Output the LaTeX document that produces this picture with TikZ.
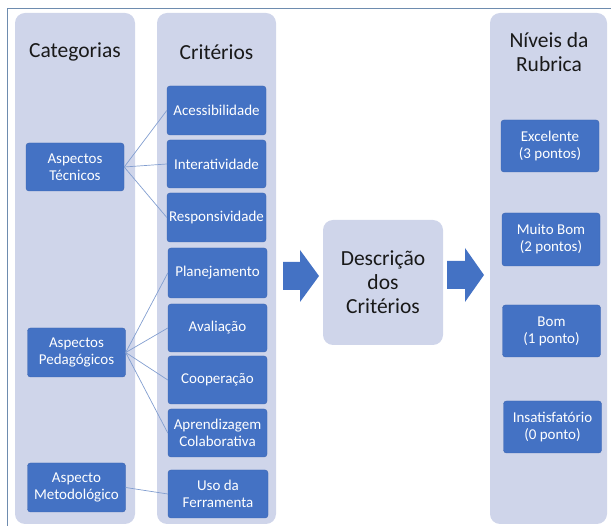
\documentclass[tikz,border=0pt]{standalone}
\usepackage{fontspec}
\setmainfont{Carlito}
\definecolor{dblue}{RGB}{68,114,196}
\definecolor{dborder}{RGB}{60,100,175}
\definecolor{lcol}{RGB}{207,213,234}
\definecolor{conn}{RGB}{130,158,208}
\definecolor{frame}{RGB}{110,140,175}
\definecolor{ttext}{RGB}{25,25,25}
\begin{document}
\begin{tikzpicture}[x=1pt,y=-1pt,
  colbox/.style={fill=lcol,rounded corners=10pt,inner sep=0pt},
  item/.style={fill=dblue,draw=dborder,line width=0.4pt,rounded corners=3pt,text=white,
    align=center,inner sep=1pt,minimum width=98pt,minimum height=48pt,
    font=\fontsize{15}{17}\selectfont},
  ttl/.style={text=ttext,align=center,font=\fontsize{21.5}{24}\selectfont},
  link/.style={draw=conn,line width=0.7pt},
  blockarrow/.style={fill=dblue,draw=none}]
\useasboundingbox (0,0) rectangle (611,526);
\draw[frame,line width=0.8pt] (7,526) -- (7,8) -- (611,8);
% columns
\node[colbox,minimum width=120pt,minimum height=511pt] (c1) at (75,268.5) {};
\node[colbox,minimum width=119pt,minimum height=511pt] (c2) at (216.5,268.5) {};
\node[colbox,minimum width=117pt,minimum height=511pt] (c3) at (548.5,268.5) {};
\node[colbox,minimum width=120pt,minimum height=125pt,ttl,font=\fontsize{21.5}{24}\selectfont] (desc) at (383,282.5) {Descrição\\dos\\Critérios};
% titles
\node[ttl] (t1) at (75,52) {Categorias};
\node[ttl] (t2) at (216.5,52) {Critérios};
\node[ttl] (t3) at (549,52) {Níveis da\\Rubrica};
% categories
\node[item] (tec) at (75,167) {Aspectos\\Técnicos};
\node[item,minimum height=49pt] (ped) at (76.5,352.5) {Aspectos\\Pedagógicos};
\node[item,minimum height=49pt] (met) at (76.5,487.5) {Aspecto\\Metodológico};
% criteria
\node[item,minimum width=99pt,minimum height=49pt] (ace) at (216.5,110.5) {Acessibilidade};
\node[item,minimum width=99pt] (int) at (216.5,164) {Interatividade};
\node[item,minimum width=99pt,minimum height=49pt] (res) at (216.5,217.5) {Responsividade};
\node[item,minimum width=99pt,minimum height=50pt] (pla) at (217.5,273) {Planejamento};
\node[item,minimum width=99pt] (ava) at (217.5,328) {Avaliação};
\node[item,minimum width=99pt] (coo) at (217.5,380) {Cooperação};
\node[item,minimum width=99pt] (apr) at (217.5,433) {Aprendizagem\\Colaborativa};
\node[item,minimum width=100pt] (uso) at (218,494) {Uso da\\Ferramenta};
% levels
\node[item,minimum height=52pt] (exc) at (550,146) {Excelente\\(3 pontos)};
\node[item,minimum height=53pt] (mb) at (551,239.5) {Muito Bom\\(2 pontos)};
\node[item,minimum height=52pt] (bom) at (551.5,331) {Bom\\(1 ponto)};
\node[item,minimum height=52pt] (ins) at (552.5,427) {Insatisfatório\\(0 ponto)};
% connectors
\foreach \t in {ace,int,res} \draw[link] (tec.east) -- (\t.west);
\foreach \t in {pla,ava,coo,apr} \draw[link] (ped.east) -- (\t.west);
\draw[link] (met.east) -- (uso.west);
% block arrows
\fill[blockarrow] (283,262) -- (300,262) -- (300,250) -- (319,276) -- (300,302) -- (300,290) -- (283,290) -- cycle;
\fill[blockarrow] (447,261) -- (465,261) -- (465,248) -- (484,275) -- (465,302) -- (465,289) -- (447,289) -- cycle;
\end{tikzpicture}
\end{document}
